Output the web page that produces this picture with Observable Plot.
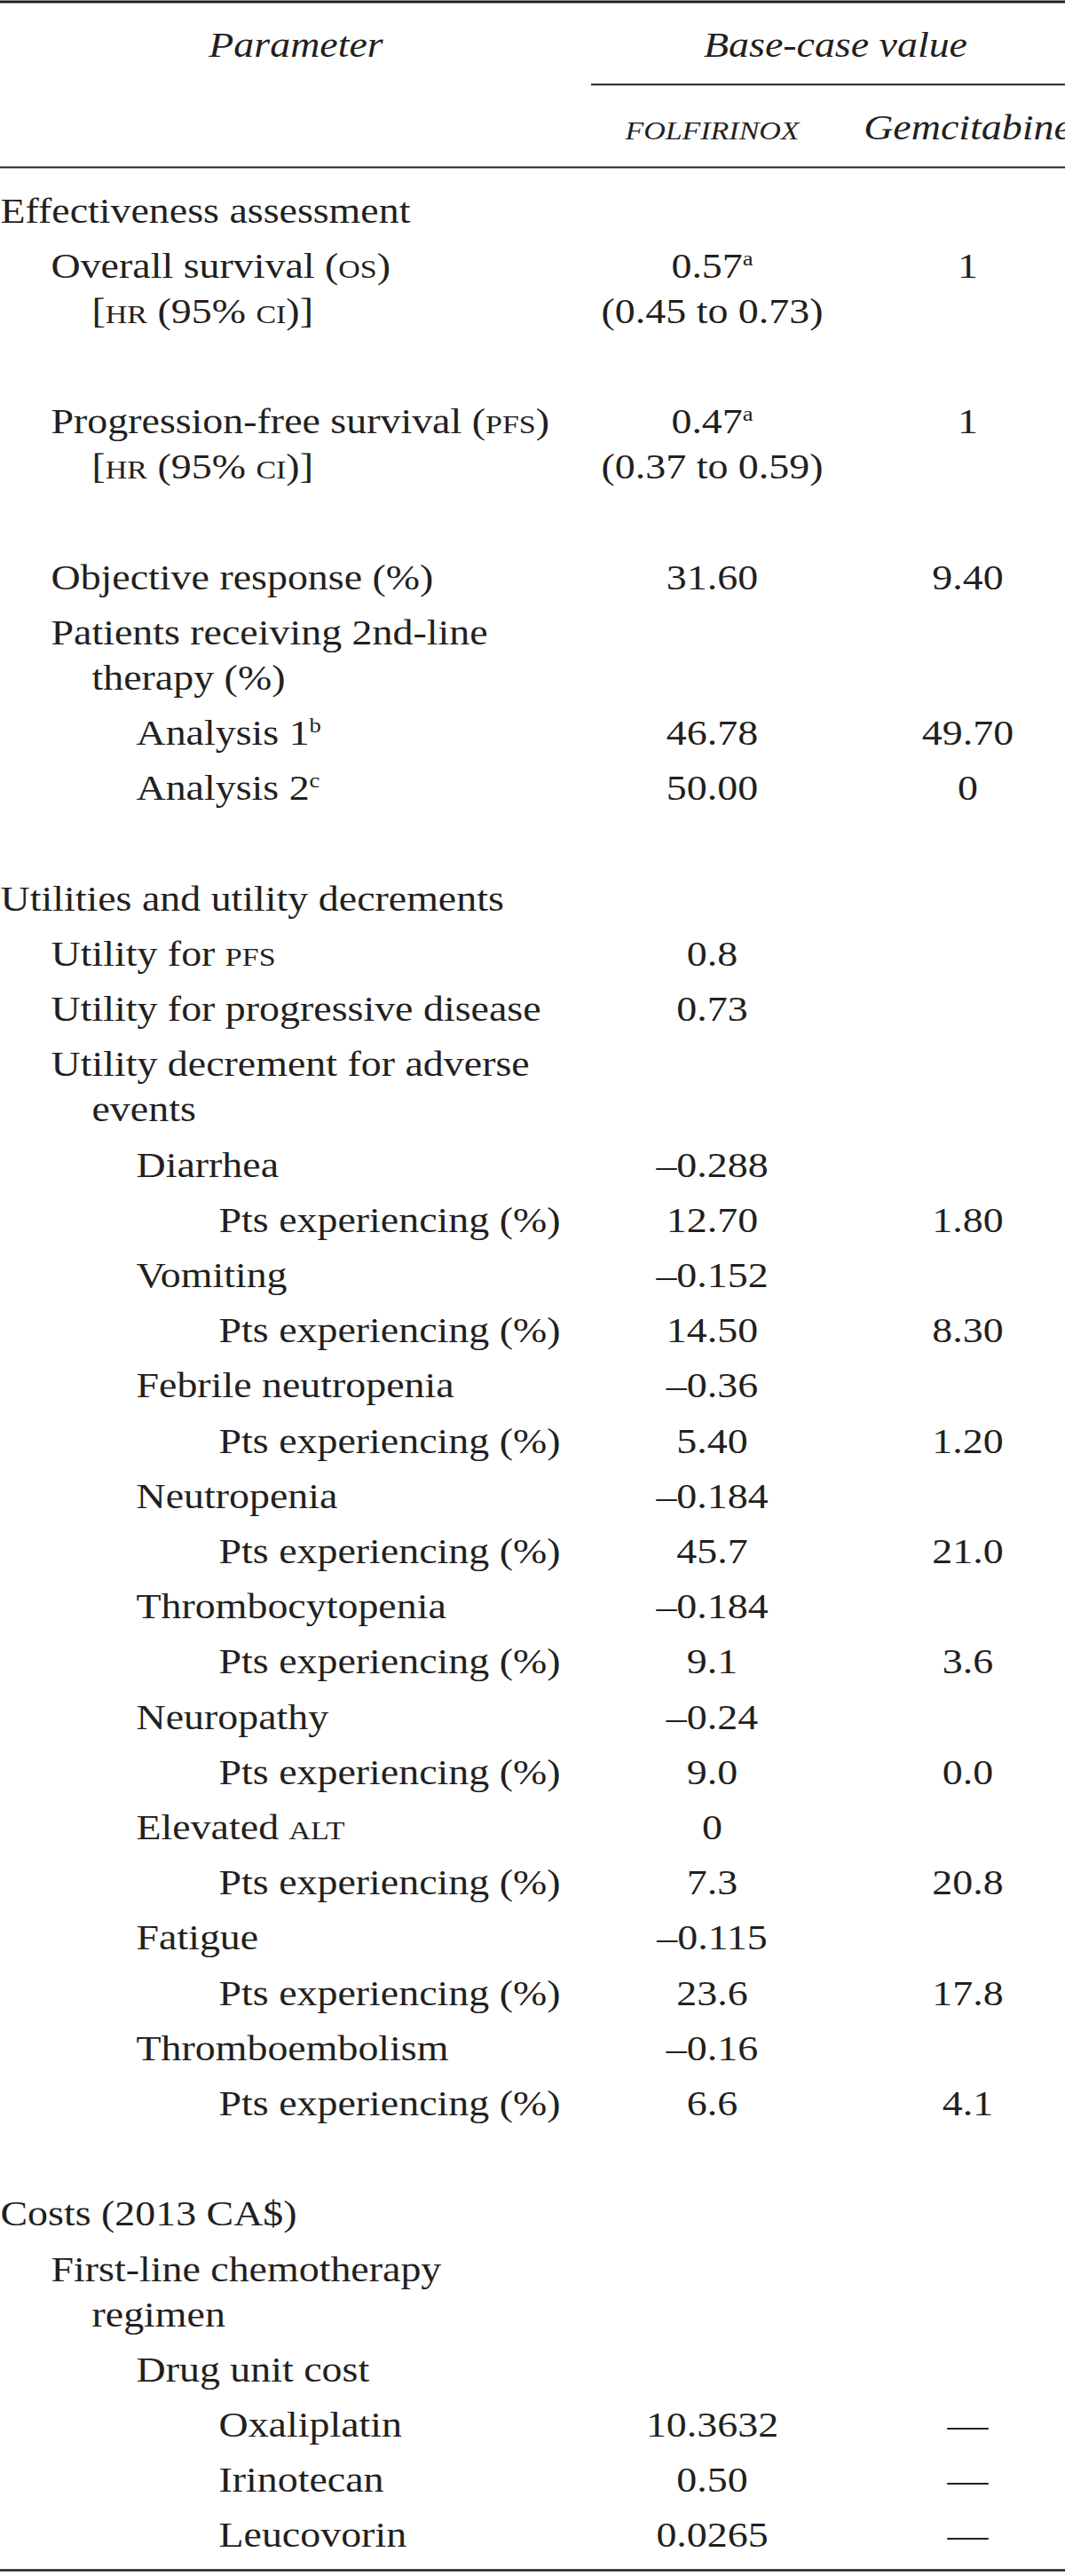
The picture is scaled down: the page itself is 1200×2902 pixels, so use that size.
<!DOCTYPE html>
<html>
<head>
<meta charset="utf-8">
<script src="https://cdn.jsdelivr.net/npm/d3@7"></script>
<script src="https://cdn.jsdelivr.net/npm/@observablehq/plot@0.6"></script>
<style>
  html, body { margin: 0; padding: 0; background: #fff; overflow: hidden; }
  #chart svg { display: block; }
</style>
</head>
<body>
<div id="chart"></div>
<script>
// ---------------- DATA ----------------
// {..} = small capitals, ^x = superscript footnote mark, \n = wrapped line within a cell
const columnHeaders = ["Parameter", "Base-case value"];
const armHeaders = ["{FOLFIRINOX}", "Gemcitabine"];

const parameterLabels = [
  "Effectiveness assessment",
  "Overall survival ({OS})\n[{HR} (95% {CI})]",
  "",
  "Progression-free survival ({PFS})\n[{HR} (95% {CI})]",
  "",
  "Objective response (%)",
  "Patients receiving 2nd-line\ntherapy (%)",
  "Analysis 1^b",
  "Analysis 2^c",
  "",
  "Utilities and utility decrements",
  "Utility for {PFS}",
  "Utility for progressive disease",
  "Utility decrement for adverse\nevents",
  "Diarrhea",
  "Pts experiencing (%)",
  "Vomiting",
  "Pts experiencing (%)",
  "Febrile neutropenia",
  "Pts experiencing (%)",
  "Neutropenia",
  "Pts experiencing (%)",
  "Thrombocytopenia",
  "Pts experiencing (%)",
  "Neuropathy",
  "Pts experiencing (%)",
  "Elevated {ALT}",
  "Pts experiencing (%)",
  "Fatigue",
  "Pts experiencing (%)",
  "Thromboembolism",
  "Pts experiencing (%)",
  "",
  "Costs (2013 CA$)",
  "First-line chemotherapy\nregimen",
  "Drug unit cost",
  "Oxaliplatin",
  "Irinotecan",
  "Leucovorin"
];

// hierarchy depth of each parameter (null = empty spacer row)
const parameterLevels = [
  0, 1, null, 1, null, 1, 1, 2, 2, null,
  0, 1, 1, 1, 2, 3, 2, 3, 2, 3, 2, 3, 2, 3, 2, 3, 2, 3, 2, 3, 2, 3, null,
  0, 1, 2, 3, 3, 3
];

const folfirinoxValues = [
  "", "0.57^a\n(0.45 to 0.73)", "", "0.47^a\n(0.37 to 0.59)", "",
  "31.60", "", "46.78", "50.00", "",
  "", "0.8", "0.73", "",
  "–0.288", "12.70", "–0.152", "14.50", "–0.36", "5.40", "–0.184", "45.7",
  "–0.184", "9.1", "–0.24", "9.0", "0", "7.3", "–0.115", "23.6", "–0.16", "6.6", "",
  "", "", "", "10.3632", "0.50", "0.0265"
];

const gemcitabineValues = [
  "", "1", "", "1", "",
  "9.40", "", "49.70", "0", "",
  "", "", "", "",
  "", "1.80", "", "8.30", "", "1.20", "", "21.0",
  "", "3.6", "", "0.0", "", "20.8", "", "17.8", "", "4.1", "",
  "", "", "", "—", "—", "—"
];

// ---------------- LAYOUT ----------------
const ink = "#231f20";
const FONT = 41;
const STRETCH = 1.12;          // horizontal glyph stretch of the typeset original
const INDENT = [0, 57, 153, 246];
const HANG = 46;               // hanging indent of wrapped lines
const WRAP = 0.82;             // wrapped line pitch, in rows
const COL = {parameter: 333, base: 941, folfirinox: 802, gemcitabine: 1090, spanStart: 666};

const labelCells = [], valueCells = [];
let cursor = 0;
parameterLabels.forEach((label, i) => {
  if (parameterLevels[i] == null) { cursor += 1; return; }
  const lab = label.split("\n");
  const f = folfirinoxValues[i] ? folfirinoxValues[i].split("\n") : [];
  const g = gemcitabineValues[i] ? gemcitabineValues[i].split("\n") : [];
  lab.forEach((t, j) => labelCells.push({x: INDENT[parameterLevels[i]] + (j ? HANG : 0), u: cursor + j * WRAP, text: t}));
  f.forEach((t, j) => valueCells.push({x: COL.folfirinox, u: cursor + j * WRAP, text: t}));
  g.forEach((t, j) => valueCells.push({x: COL.gemcitabine, u: cursor + j * WRAP, text: t}));
  const n = Math.max(lab.length, f.length, g.length);
  cursor += 1 + (n - 1) * WRAP;
});
const lastRow = cursor - 1;

const headerCells = [
  {x: COL.parameter, u: -3, text: columnHeaders[0]},
  {x: COL.base, u: -3, text: columnHeaders[1]},
  {x: COL.folfirinox, u: -1.5, text: armHeaders[0]},
  {x: COL.gemcitabine, u: -1.5, text: armHeaders[1]}
];

const rules = [
  {u: -4, x1: 0, x2: 1200, w: 3},
  {u: -2.5, x1: COL.spanStart, x2: 1200, w: 2},
  {u: -1, x1: 0, x2: 1200, w: 2},
  {u: lastRow + 0.42, x1: 0, x2: 1200, w: 2.5}
];

const svg = Plot.plot({
  width: 1200,
  height: 2902,
  margin: 0,
  x: {type: "linear", domain: [0, 1200], range: [0, 1200], axis: null},
  y: {type: "linear", domain: [-4, lastRow + 0.42], range: [1.5, 2895], axis: null},
  style: {
    background: "#fff",
    fontFamily: "'Liberation Serif', 'Times New Roman', 'DejaVu Serif', serif",
    color: ink,
    overflow: "hidden"
  },
  marks: [
    Plot.ruleY(rules, {y: "u", x1: "x1", x2: "x2", stroke: ink, strokeWidth: "w"}),
    Plot.text(labelCells, {x: "x", y: "u", text: "text", textAnchor: "start", lineAnchor: "bottom", fontSize: FONT, fill: ink}),
    Plot.text(valueCells, {x: "x", y: "u", text: "text", textAnchor: "middle", lineAnchor: "bottom", fontSize: FONT, fill: ink}),
    Plot.text(headerCells, {x: "x", y: "u", text: "text", textAnchor: "middle", lineAnchor: "bottom", fontSize: FONT, fontStyle: "italic", fill: ink})
  ]
});

// rich text: small caps and superscripts, and the typeset horizontal stretch
const NS = "http://www.w3.org/2000/svg";
svg.querySelectorAll("text").forEach((el) => {
  const tr = el.getAttribute("transform") || "";
  el.setAttribute("transform", `${tr} scale(${STRETCH},1)`);
  const raw = el.textContent;
  if (!/[{^]/.test(raw)) return;
  el.textContent = "";
  const re = /\{([^}]*)\}|\^(.)/g;
  let last = 0, m;
  while ((m = re.exec(raw))) {
    if (m.index > last) el.appendChild(document.createTextNode(raw.slice(last, m.index)));
    const ts = document.createElementNS(NS, "tspan");
    if (m[1] != null) {
      ts.setAttribute("font-size", "0.74em");
      ts.textContent = m[1];
    } else {
      ts.setAttribute("font-size", "0.58em");
      ts.setAttribute("dy", "-0.6em");
      ts.textContent = m[2];
    }
    el.appendChild(ts);
    last = re.lastIndex;
  }
  if (last < raw.length) el.appendChild(document.createTextNode(raw.slice(last)));
});

document.getElementById("chart").appendChild(svg);
</script>
</body>
</html>
